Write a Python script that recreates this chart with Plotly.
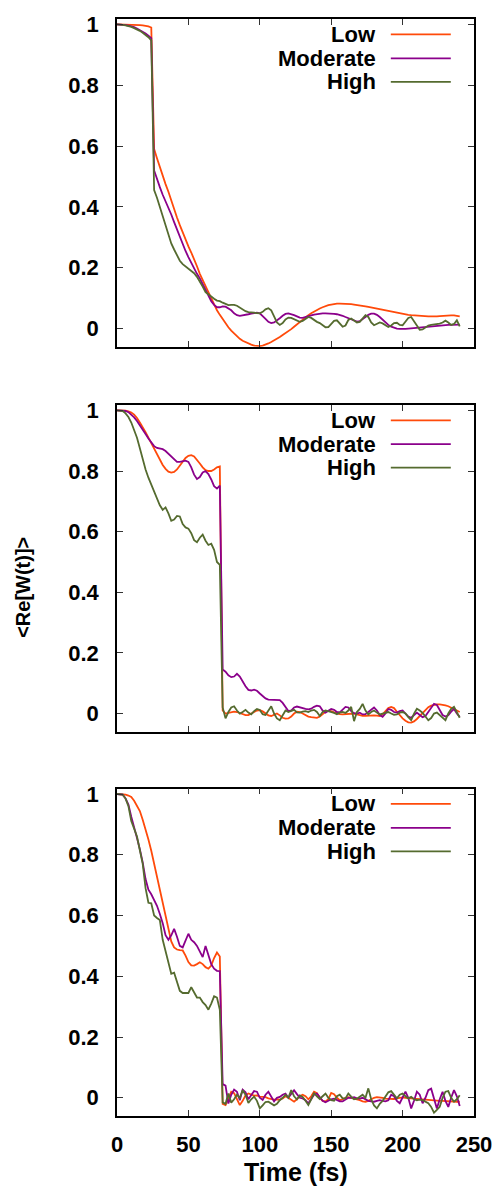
import plotly.graph_objects as go

# Time grid (fs)
T = list(range(0, 241, 2))

SERIES_NAMES = ["Low", "Moderate", "High"]
COLORS = ["#ff4a0a", "#8b008b", "#556b2f"]

# ---------------- Panel 1 ----------------
P1_LOW = [
    1.0, 1.0, 1.0, 1.0, 1.0, 1.0, 1.0, 0.999, 0.998, 0.997,
    0.996, 0.994, 0.99, 0.59, 0.56, 0.53, 0.50, 0.475, 0.45, 0.42,
    0.39, 0.365, 0.34, 0.315, 0.29, 0.27, 0.25, 0.23, 0.205, 0.18,
    0.16, 0.138, 0.115, 0.095, 0.078, 0.06, 0.045, 0.03, 0.016, 0.004,
    -0.007, -0.017, -0.026, -0.034, -0.04, -0.045, -0.05, -0.053, -0.056, -0.057,
    -0.058, -0.056, -0.053, -0.049, -0.044, -0.039, -0.034, -0.028, -0.021, -0.015,
    -0.009, -0.002, 0.006, 0.014, 0.022, 0.03, 0.037, 0.044, 0.05, 0.056,
    0.061, 0.066, 0.07, 0.074, 0.077, 0.079, 0.081, 0.082, 0.082, 0.082,
    0.082, 0.081, 0.08, 0.079, 0.078, 0.076, 0.075, 0.073, 0.071, 0.069,
    0.067, 0.065, 0.063, 0.061, 0.059, 0.057, 0.055, 0.053, 0.051, 0.049,
    0.047, 0.046, 0.045, 0.044, 0.043, 0.042, 0.042, 0.041, 0.04, 0.04,
    0.04, 0.039, 0.04, 0.041, 0.042, 0.043, 0.043, 0.043, 0.043, 0.042,
    0.04,
]
P1_MOD = [
    1.0, 1.0, 0.999, 0.998, 0.996, 0.994, 0.991, 0.987, 0.982, 0.976,
    0.97, 0.963, 0.955, 0.52, 0.49, 0.465, 0.44, 0.42, 0.40, 0.375,
    0.35, 0.325, 0.30, 0.275, 0.255, 0.235, 0.215, 0.198, 0.18, 0.165,
    0.145, 0.125, 0.105, 0.09, 0.078, 0.07, 0.07, 0.073, 0.072, 0.067,
    0.06, 0.05, 0.044, 0.042, 0.043, 0.045, 0.047, 0.049, 0.051, 0.052,
    0.05, 0.042, 0.032, 0.022, 0.018, 0.02, 0.026, 0.034, 0.042, 0.048,
    0.05, 0.048, 0.044, 0.04, 0.036, 0.035, 0.037, 0.04, 0.043, 0.046,
    0.048, 0.049, 0.05, 0.05, 0.05, 0.049, 0.048, 0.047, 0.045, 0.042,
    0.038, 0.034, 0.03, 0.026, 0.023, 0.024, 0.03, 0.038, 0.045, 0.049,
    0.049, 0.045, 0.038, 0.029, 0.02, 0.012, 0.006, 0.002, 0.0, -0.001,
    -0.002, -0.001, 0.0, 0.001, 0.002, 0.003, 0.004, 0.005, 0.006, 0.007,
    0.008, 0.009, 0.01, 0.01, 0.011, 0.011, 0.012, 0.012, 0.012, 0.013,
    0.013,
]
P1_HIGH = [
    1.0, 1.0, 0.999, 0.997, 0.995, 0.992, 0.988, 0.984, 0.979, 0.973,
    0.966, 0.958, 0.948, 0.455, 0.43, 0.40, 0.378, 0.345, 0.31, 0.28,
    0.26, 0.24, 0.223, 0.212, 0.205, 0.198, 0.192, 0.182, 0.17, 0.155,
    0.138, 0.12, 0.112, 0.105, 0.098, 0.092, 0.09, 0.085, 0.08, 0.077,
    0.078, 0.078, 0.075, 0.068, 0.062, 0.057, 0.054, 0.052, 0.052, 0.051,
    0.05, 0.055, 0.063, 0.067, 0.06, 0.04, 0.02, 0.012, 0.018, 0.03,
    0.036, 0.035, 0.03, 0.025, 0.022, 0.025, 0.033, 0.038, 0.035, 0.027,
    0.022, 0.018, 0.01, 0.004, 0.005, 0.015, 0.025, 0.027, 0.018, 0.006,
    0.01, 0.028, 0.033, 0.027, 0.02, 0.022, 0.035, 0.044, 0.038, 0.02,
    0.011, 0.015, 0.02, 0.017, 0.01, 0.005, 0.01, 0.018, 0.019, 0.012,
    0.011, 0.022, 0.035, 0.038, 0.025, 0.01, -0.004, -0.003, 0.005, 0.01,
    0.012, 0.013, 0.015, 0.016, 0.02, 0.026, 0.02, 0.012, 0.015, 0.027,
    0.007,
]

# ---------------- Panel 2 ----------------
P2_LOW = [
    1.0, 1.0, 1.0, 0.999, 0.997, 0.993, 0.986, 0.975, 0.96, 0.945,
    0.928, 0.91, 0.892, 0.873, 0.853, 0.835, 0.82, 0.807, 0.798, 0.795,
    0.797, 0.805, 0.818, 0.832, 0.843, 0.85, 0.852, 0.848, 0.838, 0.825,
    0.812, 0.803, 0.8, 0.8, 0.805, 0.812, 0.815, 0.01, 0.0, 0.002,
    0.005, 0.006, 0.005, 0.002, -0.002, -0.005, -0.005, -0.001, 0.005, 0.01,
    0.011, 0.007, 0.0, -0.006, -0.008, -0.005, 0.0, -0.006, -0.014, -0.017,
    -0.016, -0.01, 0.0, 0.006, 0.005, 0.0, -0.006, -0.01, -0.012, -0.014,
    -0.014, -0.01, -0.002, 0.006, 0.009, 0.008, 0.004, 0.0, -0.002, -0.003,
    -0.002, 0.0, 0.001, 0.0, -0.003, -0.006, -0.008, -0.008, -0.007, -0.006,
    -0.006, -0.007, -0.008, -0.003, 0.008, 0.018, 0.022, 0.018, 0.006, -0.006,
    -0.016, -0.024, -0.029, -0.03, -0.026, -0.018, -0.008, 0.003, 0.013, 0.021,
    0.026, 0.029, 0.03, 0.03, 0.029, 0.027, 0.024, 0.02, 0.015, 0.01,
    0.005,
]
P2_MOD = [
    1.0, 1.0, 1.0, 0.998, 0.994, 0.987, 0.977, 0.965, 0.952, 0.938,
    0.922, 0.907, 0.893, 0.882, 0.876, 0.874, 0.872, 0.866, 0.857, 0.845,
    0.836, 0.83, 0.83, 0.832, 0.834, 0.83, 0.812, 0.788, 0.774, 0.78,
    0.795, 0.8, 0.79, 0.772, 0.75, 0.742, 0.752, 0.145, 0.138, 0.126,
    0.12, 0.122, 0.131, 0.122, 0.105, 0.09, 0.078, 0.076, 0.079, 0.075,
    0.066, 0.057, 0.05, 0.046, 0.045, 0.045, 0.045, 0.044, 0.035, 0.02,
    0.008, 0.01, 0.02, 0.023, 0.02, 0.017, 0.015, 0.014, 0.016, 0.022,
    0.026, 0.024, 0.01, 0.003, 0.008, 0.015, 0.012, 0.005, 0.004, 0.012,
    0.022, 0.02, 0.008, 0.001, 0.0, 0.003, -0.003, -0.002, 0.005, 0.012,
    0.02, 0.01, -0.005, -0.011, 0.0, 0.015, 0.012, 0.005, 0.003, 0.008,
    0.01, 0.0, -0.01, -0.014, -0.006, 0.003, -0.005, -0.012, -0.008, 0.005,
    0.02, 0.032, 0.028, 0.01, -0.005, -0.01, -0.006, 0.006, 0.015, 0.0,
    -0.011,
]
P2_HIGH = [
    1.0, 1.0, 0.998, 0.99, 0.978, 0.96, 0.937, 0.91, 0.875, 0.837,
    0.805, 0.778, 0.754, 0.73, 0.705, 0.687, 0.672, 0.68, 0.66, 0.636,
    0.64, 0.652, 0.65, 0.625, 0.614, 0.61, 0.595, 0.572, 0.565, 0.58,
    0.59, 0.57, 0.556, 0.56, 0.54, 0.5, 0.49, 0.02, -0.016, 0.005,
    0.02, 0.024, 0.01, 0.0, 0.005, 0.012, 0.003, -0.003, 0.008, 0.015,
    0.012, -0.002, -0.005, 0.01, 0.024, 0.0, -0.016, -0.022, -0.005, 0.01,
    0.005, 0.008, 0.012, 0.004, 0.003, 0.006, 0.008, 0.005, 0.01, 0.012,
    0.005, -0.008, 0.005, 0.01, 0.008, 0.006, 0.002, -0.002, 0.003, 0.005,
    0.002, 0.01, 0.022, -0.025, 0.005, 0.015, 0.032, 0.01, -0.003, 0.005,
    0.01, 0.003, -0.003, 0.0, 0.003, 0.005, 0.0, -0.004, -0.003, 0.003,
    0.005, 0.0, -0.012, -0.022, 0.0, 0.016, 0.01, 0.002, -0.01, -0.022,
    -0.015, 0.0, 0.003, -0.005, -0.015, -0.022, 0.0, 0.015, 0.022, 0.005,
    -0.014,
]

# ---------------- Panel 3 ----------------
P3_LOW = [
    1.0, 1.0, 1.0, 0.998, 0.995, 0.99, 0.978, 0.962, 0.944, 0.915,
    0.885, 0.85, 0.813, 0.77, 0.725, 0.682, 0.638, 0.595, 0.55, 0.515,
    0.495, 0.488, 0.486, 0.485, 0.468, 0.447, 0.436, 0.435, 0.44, 0.446,
    0.44, 0.43, 0.425, 0.435, 0.46, 0.478, 0.465, -0.02, -0.024, 0.0,
    0.02, 0.015, -0.005, -0.024, -0.01, 0.008, 0.014, 0.01, 0.007, 0.008,
    0.004, 0.003, 0.002, -0.002, -0.005, -0.006, -0.005, -0.006, -0.002, 0.005,
    0.0, -0.008, -0.013, -0.005, 0.005, 0.01, 0.005, -0.005, 0.005, 0.02,
    0.015, 0.0, -0.01, -0.012, -0.005, 0.016, 0.012, 0.0, -0.008, -0.005,
    0.0, 0.002, 0.0, -0.002, -0.005, -0.008, -0.012, -0.013, -0.01, -0.005,
    0.0, 0.002, 0.002, 0.0, -0.003, -0.004, -0.005, -0.004, -0.002, 0.0,
    0.001, 0.0, -0.002, -0.002, -0.003, -0.004, -0.005, -0.006, -0.007, -0.008,
    -0.008, -0.009, -0.01, -0.01, -0.01, -0.011, -0.011, -0.012, -0.012, -0.013,
    -0.013,
]
P3_MOD = [
    1.0, 1.0, 0.998, 0.985, 0.965, 0.925, 0.885, 0.855, 0.818, 0.775,
    0.72, 0.685, 0.67, 0.652, 0.632, 0.605, 0.575, 0.535, 0.52, 0.535,
    0.556, 0.53, 0.5, 0.495, 0.52, 0.54, 0.52, 0.512, 0.5, 0.48,
    0.463, 0.5, 0.468, 0.44, 0.425, 0.418, 0.417, 0.045, 0.04, -0.019,
    0.01, 0.027, 0.02, -0.008, 0.027, 0.018, -0.005, 0.01, 0.022, 0.02,
    0.0, -0.007, 0.01, 0.02, 0.005, -0.012, 0.0, 0.003, 0.01, 0.014,
    0.0, 0.012, 0.025, 0.012, 0.0, -0.002, -0.008, -0.018, -0.005, 0.01,
    0.014, 0.0, -0.01, -0.015, -0.01, -0.005, -0.003, -0.008, -0.012, -0.012,
    -0.005, 0.0, 0.0, 0.002, -0.002, -0.003, 0.0, -0.005, -0.01, -0.012,
    -0.013, -0.01, -0.008, -0.01, -0.012, -0.008, 0.01, 0.005, -0.01, -0.018,
    0.0, 0.02, 0.0, -0.035, -0.01, 0.02, 0.01, -0.018, 0.0, 0.025,
    0.03, 0.0, -0.035, -0.005, 0.02, -0.01, -0.03, 0.0, 0.025, 0.005,
    -0.027,
]
P3_HIGH = [
    1.0, 1.0, 0.998, 0.985, 0.96, 0.911, 0.885, 0.86, 0.815, 0.77,
    0.69, 0.642, 0.64, 0.6, 0.592, 0.585, 0.52, 0.485, 0.45, 0.408,
    0.412, 0.38, 0.352, 0.345, 0.344, 0.345, 0.364, 0.345, 0.33, 0.33,
    0.315, 0.305, 0.29, 0.31, 0.334, 0.33, 0.29, -0.015, -0.02, 0.014,
    -0.016, -0.005, 0.01, 0.0, 0.025, 0.01, -0.017, -0.005, 0.004, -0.01,
    -0.035, -0.025, -0.014, -0.013, -0.02, -0.025, -0.02, -0.008, 0.0, 0.01,
    0.0, 0.025, 0.005, -0.005, 0.008, 0.003, -0.01, -0.024, -0.005, 0.015,
    0.005, -0.004, 0.005, 0.014, 0.0, -0.008, -0.01, 0.005, 0.01, -0.002,
    -0.002, 0.014, 0.004, -0.005, -0.003, 0.003, 0.01, 0.0, 0.031, -0.005,
    -0.025, -0.035, -0.02, -0.01, 0.005, 0.018, 0.022, 0.01, -0.002, 0.01,
    0.014, 0.005, -0.002, 0.003, -0.005, -0.008, -0.006, -0.008, -0.012, -0.018,
    -0.03, -0.049, -0.04, -0.03, 0.0, 0.02, 0.022, 0.0, -0.013, -0.005,
    0.008,
]

PANELS = [
    [P1_LOW, P1_MOD, P1_HIGH],
    [P2_LOW, P2_MOD, P2_HIGH],
    [P3_LOW, P3_MOD, P3_HIGH],
]

X_TICKS = [0, 50, 100, 150, 200, 250]
Y_TICKS = [0, 0.2, 0.4, 0.6, 0.8, 1]
Y_TICK_TEXT = ["0", "0.2", "0.4", "0.6", "0.8", "1"]

FONT = "Liberation Sans, Arial, sans-serif"
DOMAINS = [[0.7012, 1.0], [0.3503, 0.6482], [0.0, 0.2985]]

fig = go.Figure()
for p, series in enumerate(PANELS):
    ax = "" if p == 0 else str(p + 1)
    for s, vals in enumerate(series):
        fig.add_trace(go.Scatter(
            x=T[:len(vals)], y=vals, mode="lines",
            line=dict(color=COLORS[s], width=1.8),
            name=SERIES_NAMES[s], showlegend=False,
            xaxis="x" + ax, yaxis="y" + ax,
        ))

axis_common = dict(
    showgrid=False, zeroline=False, showline=True, linecolor="black",
    linewidth=1.5, mirror="ticks", ticks="inside", ticklen=6,
    tickcolor="#333333", tickwidth=1,
    tickfont=dict(family=FONT, size=22, color="black", weight="bold"),
)

layout = dict(
    width=504, height=1189, autosize=False,
    margin=dict(l=117, r=26, t=14, b=73),
    paper_bgcolor="white", plot_bgcolor="white",
    font=dict(family=FONT, color="black"),
)
for p in range(3):
    ax = "" if p == 0 else str(p + 1)
    layout["xaxis" + ax] = dict(
        axis_common, range=[0, 250], tickvals=X_TICKS,
        showticklabels=(p == 2), anchor="y" + ax, domain=[0, 1],
        ticklabelstandoff=8,
    )
    layout["yaxis" + ax] = dict(
        axis_common, range=[-0.06, 1.018], tickvals=Y_TICKS,
        ticktext=Y_TICK_TEXT, anchor="x" + ax, domain=DOMAINS[p],
        ticklabelstandoff=12,
    )
fig.update_layout(**layout)

# gnuplot-style legends: text on the left, line sample on the right
LEG_Y = [0.953, 0.88, 0.808]
for p in range(3):
    ax = "" if p == 0 else str(p + 1)
    for s in range(3):
        fig.add_annotation(
            x=0.73, y=LEG_Y[s], xref="x" + ax + " domain", yref="y" + ax + " domain",
            text=SERIES_NAMES[s], showarrow=False, xanchor="right", yanchor="middle",
            font=dict(family=FONT, size=22, color="black", weight="bold"),
        )
        fig.add_shape(
            type="line", xref="x" + ax + " domain", yref="y" + ax + " domain",
            x0=0.767, x1=0.935, y0=LEG_Y[s], y1=LEG_Y[s],
            line=dict(color=COLORS[s], width=1.8),
        )

fig.add_annotation(
    x=0.5, y=-0.0508, xref="paper", yref="paper", text="Time (fs)",
    showarrow=False, xanchor="center", yanchor="middle",
    font=dict(family=FONT, size=25, color="black", weight="bold"),
)
fig.add_annotation(
    x=-0.262, y=0.4819, xref="paper", yref="paper", text="&lt;Re[W(t)]&gt;",
    showarrow=False, textangle=-90, xanchor="center", yanchor="middle",
    font=dict(family=FONT, size=20, color="black", weight="bold"),
)

fig.write_html("out.html")
